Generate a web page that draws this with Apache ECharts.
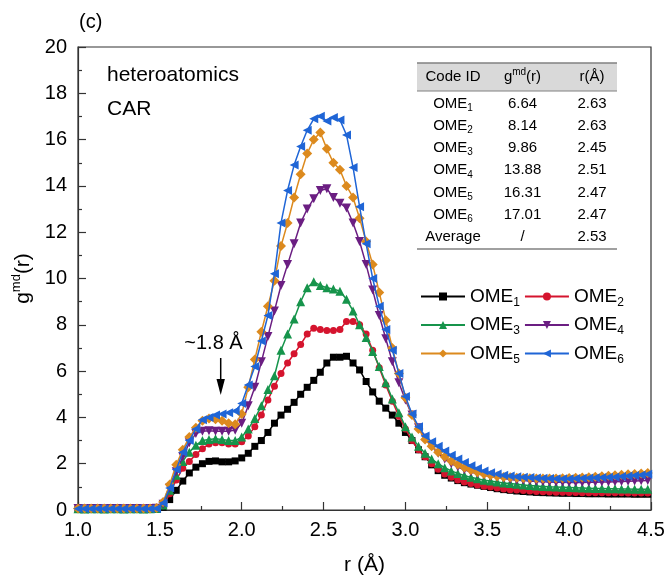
<!DOCTYPE html>
<html><head><meta charset="utf-8">
<script src="https://cdn.jsdelivr.net/npm/echarts@6/dist/echarts.min.js"></script>
<style>html,body{margin:0;padding:0;background:#fff}#c{width:672px;height:581px}</style>
</head><body><div id="c"></div>
<script>
const rVals = [1.00,1.04,1.08,1.12,1.16,1.20,1.24,1.28,1.32,1.36,1.40,1.44,1.48,
1.52,1.56,1.60,1.64,1.68,1.72,1.76,1.80,1.84,1.88,1.92,1.96,
2.00,2.04,2.08,2.12,2.16,2.20,2.24,2.28,2.32,2.36,2.40,2.44,2.48,
2.52,2.56,2.60,2.64,2.68,2.72,2.76,2.80,2.84,2.88,2.92,2.96,
3.00,3.04,3.08,3.12,3.16,3.20,3.24,3.28,3.32,3.36,3.40,3.44,3.48,
3.52,3.56,3.60,3.64,3.68,3.72,3.76,3.80,3.84,3.88,3.92,3.96,
4.00,4.04,4.08,4.12,4.16,4.20,4.24,4.28,4.32,4.36,4.40,4.44,4.48];

const ome1 = [0.03,0.04,0.03,0.03,0.04,0.03,0.03,0.04,0.03,0.03,0.04,0.03,0.05,
0.12,0.45,0.85,1.25,1.6,1.85,2.0,2.1,2.12,2.08,2.08,2.12,
2.25,2.45,2.75,3.0,3.35,3.75,4.1,4.35,4.65,5.0,5.3,5.6,5.95,
6.35,6.6,6.6,6.64,6.35,6.05,5.55,5.1,4.7,4.4,4.1,3.75,
3.35,3.0,2.6,2.3,1.95,1.7,1.5,1.38,1.27,1.18,1.12,1.07,1.02,
0.97,0.92,0.88,0.85,0.82,0.8,0.78,0.76,0.75,0.74,0.73,0.72,
0.72,0.71,0.71,0.7,0.7,0.7,0.69,0.69,0.69,0.69,0.68,0.68,0.68];

const ome2 = [0.04,0.03,0.04,0.04,0.03,0.04,0.04,0.03,0.04,0.04,0.03,0.04,0.06,
0.18,0.7,1.3,1.8,2.1,2.4,2.65,2.85,2.9,2.9,2.85,2.85,
2.95,3.2,3.6,4.1,4.75,5.35,5.9,6.35,6.75,7.15,7.6,7.85,7.8,
7.75,7.75,7.8,8.14,8.14,8.0,7.6,6.9,6.15,5.4,4.7,4.05,
3.5,3.0,2.6,2.3,2.0,1.76,1.56,1.42,1.3,1.21,1.14,1.08,1.03,
0.99,0.95,0.91,0.88,0.86,0.84,0.82,0.8,0.79,0.78,0.77,0.77,
0.76,0.76,0.75,0.75,0.75,0.74,0.74,0.74,0.74,0.73,0.73,0.73,0.73];

const ome3 = [0.05,0.04,0.05,0.05,0.04,0.05,0.05,0.04,0.05,0.05,0.04,0.05,0.07,
0.22,0.85,1.5,2.1,2.5,2.8,3.0,3.05,3.08,3.05,3.0,3.0,
3.15,3.5,3.95,4.5,5.2,5.8,6.9,7.6,8.25,9.0,9.6,9.86,9.7,
9.6,9.55,9.45,9.1,8.6,8.0,7.45,6.85,6.2,5.5,4.8,4.2,
3.6,3.15,2.75,2.45,2.2,2.0,1.83,1.69,1.58,1.49,1.41,1.35,1.29,
1.25,1.21,1.17,1.14,1.11,1.08,1.06,1.04,1.02,1.0,0.99,0.98,
0.97,0.96,0.95,0.94,0.93,0.93,0.92,0.92,0.91,0.91,0.9,0.9,0.9];

const ome4 = [0.06,0.05,0.06,0.06,0.05,0.06,0.06,0.05,0.06,0.06,0.05,0.06,0.08,
0.25,0.95,1.65,2.3,2.9,3.3,3.4,3.42,3.4,3.4,3.4,3.45,
3.75,4.5,5.3,6.4,7.5,8.6,9.7,10.6,11.5,12.4,13.0,13.45,13.8,
13.88,13.5,13.25,13.05,12.4,11.6,10.6,9.5,8.4,7.4,6.4,5.5,
4.75,4.1,3.55,3.1,2.75,2.45,2.2,2.0,1.86,1.74,1.64,1.56,1.5,
1.45,1.4,1.36,1.32,1.29,1.27,1.25,1.23,1.22,1.21,1.2,1.2,
1.19,1.19,1.19,1.2,1.2,1.21,1.21,1.22,1.23,1.24,1.25,1.26,1.27];

const ome5 = [0.07,0.06,0.07,0.07,0.06,0.07,0.07,0.06,0.07,0.07,0.06,0.07,0.09,
0.35,1.1,1.95,2.6,3.15,3.55,3.85,3.95,3.92,3.85,3.75,3.7,
4.15,5.3,6.5,7.7,8.8,9.9,11.4,12.4,13.5,14.5,15.4,16.0,16.31,
15.6,15.0,14.7,14.0,13.5,12.6,11.6,10.6,9.4,8.2,7.0,5.9,
4.85,4.1,3.5,3.05,2.75,2.5,2.3,2.12,1.97,1.84,1.73,1.63,1.55,
1.5,1.46,1.43,1.41,1.39,1.38,1.37,1.36,1.36,1.36,1.36,1.37,
1.38,1.39,1.4,1.42,1.44,1.46,1.48,1.5,1.52,1.54,1.56,1.58,1.6];

const ome6 = [0.05,0.05,0.05,0.05,0.05,0.05,0.05,0.05,0.05,0.05,0.05,0.05,0.07,
0.3,0.95,1.75,2.5,3.0,3.5,3.9,4.0,4.1,4.15,4.2,4.28,
4.6,5.4,6.2,7.3,8.4,10.2,12.4,13.8,14.9,15.7,16.4,16.9,17.01,
16.8,16.95,16.85,16.2,14.8,13.1,11.5,10.0,8.8,7.8,6.9,5.9,
4.9,4.15,3.6,3.2,2.95,2.75,2.55,2.36,2.2,2.05,1.91,1.79,1.69,
1.61,1.55,1.5,1.47,1.44,1.42,1.4,1.38,1.37,1.36,1.35,1.35,
1.35,1.36,1.37,1.38,1.39,1.4,1.41,1.43,1.45,1.47,1.49,1.51,1.54];

const seriesNames = ['OME1','OME2','OME3','OME4','OME5','OME6'];
const seriesColors = ['#000000','#d5142e','#16944b','#6b1e82','#dc8a1e','#1f65d6'];

const tableIds = ['OME1','OME2','OME3','OME4','OME5','OME6','Average'];
const tableG = ['6.64','8.14','9.86','13.88','16.31','17.01','/'];
const tableR = ['2.63','2.63','2.45','2.51','2.47','2.47','2.53'];

const FF = '"Liberation Sans", Arial, Helvetica, sans-serif';
const chart = echarts.init(document.getElementById('c'), null, {renderer:'canvas'});

const symbols = ['rect','circle','triangle','path://M0,0L10,0L5,10Z','diamond','path://M0,5L10,0L10,10Z'];
const symSizes = [7,7,9,9,10,9];
const allData = [ome1,ome2,ome3,ome4,ome5,ome6];

const series = allData.map((vals,i)=>({
  name: seriesNames[i], type:'line',
  data: vals.map((v,j)=>[rVals[j], v]),
  symbol: symbols[i], symbolSize: symSizes[i], showSymbol:true, showAllSymbol:true,
  lineStyle:{width:1.5,color:seriesColors[i]},
  itemStyle:{color:seriesColors[i]},
  emphasis:{disabled:true}, z: 2+i
}));

const legendFmt = name => '{n|OME}{s|' + name.slice(3) + '}';
const legends = [0,1,2].map(k => ({
  data: [seriesNames[2*k], seriesNames[2*k+1]],
  left: 420, top: 287 + k*28.5, orient:'horizontal',
  itemWidth: 44, itemHeight: 10, itemGap: 4, padding: 0,
  selectedMode: false,
  formatter: legendFmt,
  textStyle: {fontFamily: FF, fontSize: 19, color:'#000',
    rich: {n:{fontSize:19, fontFamily:FF, color:'#000'},
           s:{fontSize:12, fontFamily:FF, color:'#000', padding:[12,0,0,0]}}}
}));

function tText(x, y, text, size, rich){
  return {type:'text', x:x, y:y, z:100, silent:true,
    style:{text:text, font: size+'px '+FF, fontSize:size, fontFamily:FF, fill:'#000',
      textAlign:'center', textVerticalAlign:'middle', align:'center', verticalAlign:'middle',
      rich: rich}};
}
function plainText(x, y, text, size, align){
  return {type:'text', x:x, y:y, silent:true,
    style:{text:text, font:size+'px '+FF, fill:'#000', textAlign:align, textVerticalAlign:'middle', align:align, verticalAlign:'middle'}};
}
const TS = 15;
const tRich = {
  a:{font: TS+'px '+FF, fontSize:TS, fontFamily:FF, fill:'#000'},
  b:{font: '10px '+FF, fontSize:10, fontFamily:FF, fill:'#000', padding:[9,0,0,0]},
  p:{font: '10px '+FF, fontSize:10, fontFamily:FF, fill:'#000', padding:[0,0,10,0]}
};
const colX = [453, 522.5, 592];
const tblLeft = 417, tblRight = 617;
const graphics = [
  {type:'rect', z:90, silent:true, shape:{x:tblLeft, y:63, width:tblRight-tblLeft, height:28}, style:{fill:'#d9d9d9'}},
  {type:'line', z:91, silent:true, shape:{x1:tblLeft,y1:63,x2:tblRight,y2:63}, style:{stroke:'#808080', lineWidth:1.5}},
  {type:'line', z:91, silent:true, shape:{x1:tblLeft,y1:91,x2:tblRight,y2:91}, style:{stroke:'#808080', lineWidth:1}},
  {type:'line', z:91, silent:true, shape:{x1:tblLeft,y1:249,x2:tblRight,y2:249}, style:{stroke:'#808080', lineWidth:1.5}},
  tText(colX[0], 77, '{a|Code ID}', TS, tRich),
  tText(colX[1], 77, '{a|g}{p|md}{a|(r)}', TS, tRich),
  tText(colX[2], 77, '{a|r(Å)}', TS, tRich)
];
tableIds.forEach((id,i)=>{
  const y = 103.5 + i*22.25;
  const idText = id.startsWith('OME') ? '{a|OME}{b|' + id.slice(3) + '}' : '{a|' + id + '}';
  graphics.push(tText(colX[0], y, idText, TS, tRich));
  graphics.push(tText(colX[1], y, '{a|' + tableG[i] + '}', TS, tRich));
  graphics.push(tText(colX[2], y, '{a|' + tableR[i] + '}', TS, tRich));
});
graphics.push(
  plainText(79, 22, '(c)', 20, 'left'),
  plainText(107, 75, 'heteroatomics', 21, 'left'),
  plainText(107, 109, 'CAR', 21, 'left'),
  plainText(213.5, 343, '~1.8 Å', 20, 'center'),
  {type:'line', silent:true, shape:{x1:220.7,y1:358,x2:220.7,y2:383}, style:{stroke:'#000', lineWidth:1.5}},
  {type:'polygon', silent:true, shape:{points:[[216.5,379],[224.9,379],[220.7,395]]}, style:{fill:'#000'}}
);

const option = {
  animation:false,
  backgroundColor:'#fff',
  grid:{left:78, right:21, top:47, bottom:71, show:true, borderColor:'#333', borderWidth:1.2, backgroundColor:'transparent'},
  xAxis:{type:'value', min:1.0, max:4.5, interval:0.5,
    name:'r (Å)', nameLocation:'middle', nameGap:45,
    nameTextStyle:{fontFamily:FF, fontSize:21, color:'#000'},
    axisLine:{lineStyle:{color:'#333', width:1.2}},
    axisTick:{inside:true, length:8, lineStyle:{color:'#333', width:1.2}},
    minorTick:{show:true, splitNumber:2, length:4, lineStyle:{color:'#333', width:1.2}},
    splitLine:{show:false},
    axisLabel:{fontFamily:FF, fontSize:20, color:'#000', margin:10, formatter: v => v.toFixed(1)}},
  yAxis:{type:'value', min:0, max:20, interval:2,
    name:'{a|g}{b|md}{a|(r)}', nameLocation:'middle', nameGap:33,
    nameTextStyle:{fontFamily:FF, fontSize:21, color:'#000',
      rich:{a:{fontFamily:FF, fontSize:21, color:'#000'}, b:{fontFamily:FF, fontSize:13, color:'#000', padding:[0,0,13,0]}}},
    axisLine:{lineStyle:{color:'#333', width:1.2}},
    axisTick:{inside:true, length:8, lineStyle:{color:'#333', width:1.2}},
    minorTick:{show:true, splitNumber:2, length:4, lineStyle:{color:'#333', width:1.2}},
    splitLine:{show:false},
    axisLabel:{fontFamily:FF, fontSize:20, color:'#000', margin:11}},
  legend: legends,
  series: series,
  graphic: graphics
};
chart.setOption(option);
</script></body></html>
